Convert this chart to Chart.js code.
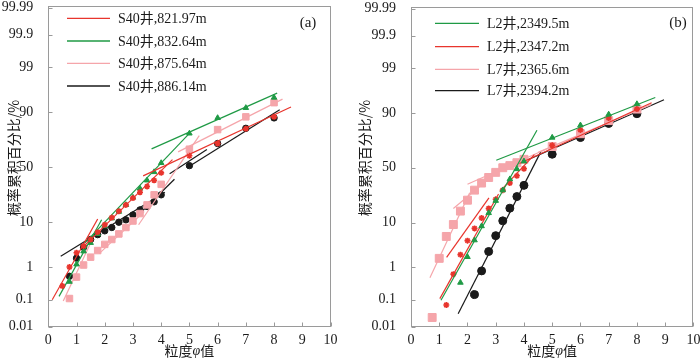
<!DOCTYPE html>
<html><head><meta charset="utf-8">
<script src="https://cdn.jsdelivr.net/npm/chart.js@4"></script>
<style>
html,body{margin:0;padding:0;background:#fff;}
#wrap{position:relative;width:700px;height:360px;overflow:hidden;}
.box{position:absolute;top:0;width:350px;height:360px;}
</style></head><body>
<div id="wrap">
<div class="box" style="left:0"><canvas id="ca" width="350" height="360"></canvas></div>
<div class="box" style="left:350px"><canvas id="cb" width="350" height="360"></canvas></div>
</div>
<script>
// ---------- axis ticks ----------
const yTickPercents = [0.01, 0.1, 1, 10, 50, 90, 99, 99.9, 99.99];
const yTickLabels = ['0.01', '0.1', '1', '10', '50', '90', '99', '99.9', '99.99'];
const xTickValues = [0, 1, 2, 3, 4, 5, 6, 7, 8, 9, 10];

// ---------- panel (a) ----------
const aLabels = ['S40井,821.97m', 'S40井,832.64m', 'S40井,875.64m', 'S40井,886.14m'];

const aRedPhi = [0.5, 0.75, 1, 1.25, 1.5, 1.75, 2, 2.25, 2.5, 2.75, 3, 3.25, 3.5, 3.75, 4, 5, 6, 7, 8];
const aRedPct = [0.28, 1.0, 2.3, 3.3, 4.6, 6.5, 9, 12, 15.3, 19, 23.6, 28, 32.7, 38, 44.8, 60.5, 71, 81.5, 88];
const aRedFit = [[0.14, 0.1, 1.75, 11.4], [1.2, 3.0, 4.4, 57], [3.36, 42, 8.6, 92]];

const aGreenPhi = [0.75, 1, 1.25, 1.5, 1.75, 2, 2.25, 2.5, 2.75, 3, 3.25, 3.5, 3.75, 4, 5, 6, 7, 8];
const aGreenPct = [0.38, 1.18, 2.5, 3.9, 6.0, 8.5, 11.7, 15, 19, 24, 31, 38, 45.6, 54, 78.5, 87.5, 91.7, 94.8];
const aGreenFit = [[0.38, 0.13, 1.89, 11], [1.3, 3.9, 5.0, 78.5], [3.66, 66.6, 8.11, 95.8]];

const aPinkPhi = [0.75, 1, 1.25, 1.5, 1.75, 2, 2.25, 2.5, 2.75, 3, 3.25, 3.5, 3.75, 4, 5, 6, 7, 8];
const aPinkPct = [0.11, 0.52, 1.13, 1.8, 2.6, 3.6, 4.6, 6.0, 8.0, 10.5, 14, 19, 26, 34.5, 66.3, 81, 88, 93.4];
const aPinkFit = [[0.53, 0.09, 1.55, 4.5], [1.8, 2.2, 3.4, 15], [3.2, 9, 5.35, 77], [4.6, 64, 8.3, 94.4]];

const aBlackPhi = [0.75, 1, 1.25, 1.5, 1.75, 2, 2.25, 2.5, 2.75, 3, 3.25, 3.5, 3.75, 4, 5, 6, 7, 8];
const aBlackPct = [0.55, 1.7, 3.1, 4.6, 5.8, 6.9, 8.0, 10, 11, 13.3, 16, 18, 21, 26, 51.5, 71, 81.8, 87.5];
const aBlackFit = [[0.44, 1.9, 4.13, 28], [3.17, 13, 4.47, 39], [4.3, 44, 5.62, 66], [5.0, 51, 8.2, 91]];

// ---------- panel (b) ----------
const bLabels = ['L2井,2349.5m', 'L2井,2347.2m', 'L7井,2365.6m', 'L7井,2394.2m'];

const bGreenPhi = [1.75, 2, 2.25, 2.5, 2.75, 3, 3.25, 3.5, 3.75, 4, 5, 6, 7, 8];
const bGreenPct = [0.36, 1.85, 4.5, 8.6, 14.5, 22, 30, 39.5, 48.8, 56, 76, 84, 89.4, 93.2];
const bGreenFit = [[1.06, 0.097, 4.46, 81], [3.02, 57, 8.65, 95]];

const bRedPhi = [1.25, 1.5, 1.75, 2, 2.25, 2.5, 2.75, 3, 3.25, 3.5, 3.75, 4, 5, 6, 7, 8];
const bRedPct = [0.066, 0.64, 2.1, 4.4, 7.8, 12, 17, 23, 30, 36, 42.5, 49, 70, 81.2, 87.8, 91.5];
const bRedFit = [[1.02, 0.11, 3.1, 27], [1.26, 1.8, 2.76, 24], [3.15, 29, 4.37, 62], [3.84, 54, 8.52, 93.6]];

const bPinkPhi = [0.75, 1, 1.25, 1.5, 1.75, 2, 2.25, 2.5, 2.75, 3, 3.25, 3.5, 3.75, 4, 5, 6, 7, 8];
const bPinkPct = [0.023, 1.7, 5.4, 9.2, 15.5, 22.4, 30, 36, 41, 45.7, 50, 52, 54.7, 57.8, 69, 78.7, 86.5, 91.5];
const bPinkFit = [[0.67, 0.5, 2.08, 28], [1.5, 17, 3.0, 45], [2.0, 35, 4.8, 67], [4.5, 64, 8.5, 93]];

const bBlackPhi = [2.25, 2.5, 2.75, 3, 3.25, 3.5, 3.75, 4, 5, 6, 7, 8];
const bBlackPct = [0.15, 0.79, 2.5, 5.6, 10.7, 17.2, 25, 34, 62.4, 76, 85, 89.7];
const bBlackFit = [[1.67, 0.032, 4.6, 64.7], [3.72, 52.5, 8.96, 94.4]];

// ---------- colours ----------
const RED = '#e8352d', GREEN = '#1f9a45', PINK = '#f5a5aa', BLACK = '#1a1a1a';

// inverse normal CDF (probability-paper scale)
function probit(p) {
  const a = [-3.969683028665376e+01, 2.209460984245205e+02, -2.759285104469687e+02, 1.383577518672690e+02, -3.066479806614716e+01, 2.506628277459239e+00];
  const b = [-5.447609879822406e+01, 1.615858368580409e+02, -1.556989798598866e+02, 6.680131188771972e+01, -1.328068155288572e+01];
  const c = [-7.784894002430293e-03, -3.223964580411365e-01, -2.400758277161838e+00, -2.549732539343734e+00, 4.374664141464968e+00, 2.938163982698783e+00];
  const d = [7.784695709041462e-03, 3.224671290700398e-01, 2.445134137142996e+00, 3.754408661907416e+00];
  const pl = 0.02425, ph = 1 - pl;
  let q, r;
  if (p < pl) { q = Math.sqrt(-2 * Math.log(p)); return (((((c[0]*q+c[1])*q+c[2])*q+c[3])*q+c[4])*q+c[5]) / ((((d[0]*q+d[1])*q+d[2])*q+d[3])*q+1); }
  if (p <= ph) { q = p - 0.5; r = q*q; return (((((a[0]*r+a[1])*r+a[2])*r+a[3])*r+a[4])*r+a[5])*q / (((((b[0]*r+b[1])*r+b[2])*r+b[3])*r+b[4])*r+1); }
  q = Math.sqrt(-2 * Math.log(1 - p));
  return -(((((c[0]*q+c[1])*q+c[2])*q+c[3])*q+c[4])*q+c[5]) / ((((d[0]*q+d[1])*q+d[2])*q+d[3])*q+1);
}
const zOf = pct => probit(pct / 100);
const yTickZ = yTickPercents.map(zOf);

function buildDatasets(series) {
  const ds = [];
  series.forEach(s => {
    ds.push({
      type: 'scatter', label: s.label,
      data: s.phi.map((x, k) => ({ x, y: zOf(s.pct[k]) })),
      backgroundColor: s.color, borderColor: s.color, borderWidth: s.bw || 1,
      pointStyle: s.style, pointRadius: s.radius, pointHoverRadius: s.radius, showLine: false
    });
    s.fit.forEach(f => ds.push({
      type: 'line', label: '',
      data: [{ x: f[0], y: zOf(f[1]) }, { x: f[2], y: zOf(f[3]) }],
      borderColor: s.color, borderWidth: 1.2, pointRadius: 0, fill: false, tension: 0
    }));
  });
  return ds;
}

const decor = {
  id: 'decor',
  afterDraw(chart, args, o) {
    const { ctx, chartArea: ca, scales: { x, y } } = chart;
    ctx.save();
    // frame
    ctx.strokeStyle = '#9a9a9a'; ctx.lineWidth = 1;
    const L = Math.round(ca.left) + 0.5, T = Math.round(ca.top) + 0.5, R = Math.round(ca.right) - 0.5, B = Math.round(ca.bottom) - 0.5;
    ctx.strokeRect(L, T, R - L, B - T);
    ctx.beginPath();
    y.ticks.forEach(t => { const py = Math.round(y.getPixelForValue(t.value)) + 0.5; ctx.moveTo(L, py); ctx.lineTo(L + 4, py); });
    x.ticks.forEach(t => { const px = Math.round(x.getPixelForValue(t.value)) + 0.5; ctx.moveTo(px, B); ctx.lineTo(px, B - 4); });
    ctx.stroke();
    // legend
    ctx.font = '14px "Liberation Serif", "Noto Sans CJK SC", serif';
    ctx.textBaseline = 'middle'; ctx.textAlign = 'left';
    o.items.forEach((it, i) => {
      const yy = o.legendRows[i];
      ctx.strokeStyle = it.color; ctx.lineWidth = 1.3;
      ctx.beginPath(); ctx.moveTo(o.legendX0, yy); ctx.lineTo(o.legendX1, yy); ctx.stroke();
      ctx.fillStyle = '#1a1a1a';
      ctx.fillText(it.label, o.legendTextX, yy + 1);
    });
    // panel label
    ctx.font = '15px "Liberation Serif", serif';
    ctx.textAlign = 'center';
    ctx.fillText(o.panel, o.panelX, o.panelY);
    // y title
    ctx.save();
    ctx.translate(o.yTitleX, o.yTitleY);
    ctx.rotate(-Math.PI / 2);
    ctx.font = '14px "Noto Sans CJK SC", sans-serif';
    ctx.textAlign = 'center'; ctx.textBaseline = 'middle';
    ctx.fillText('概率累积百分比/%', 0, 0);
    ctx.restore();
    // x title with italic phi
    const parts = [['粒度', '14px "Noto Sans CJK SC", sans-serif'], ['φ', 'italic 14px "Liberation Serif", serif'], ['值', '14px "Noto Sans CJK SC", sans-serif']];
    let w = 0;
    parts.forEach(p => { ctx.font = p[1]; w += ctx.measureText(p[0]).width; });
    let cx = (ca.left + ca.right) / 2 - w / 2;
    ctx.textAlign = 'left'; ctx.textBaseline = 'middle';
    parts.forEach(p => { ctx.font = p[1]; ctx.fillText(p[0], cx, o.xTitleY); cx += ctx.measureText(p[0]).width; });
    ctx.restore();
  }
};

function noPad(s) { s.paddingTop = 0; s.paddingBottom = 0; s.paddingLeft = 0; s.paddingRight = 0; }

function makeChart(id, series, opts) {
  return new Chart(document.getElementById(id), {
    type: 'scatter',
    data: { datasets: buildDatasets(series) },
    options: {
      responsive: false, animation: false, events: [],
      layout: { padding: { left: 0, right: opts.padRight, top: 1, bottom: 0 } },
      plugins: {
        legend: { display: false }, tooltip: { enabled: false },
        decor: {
          items: series.map(s => ({ label: s.label, color: s.color })),
          legendX0: opts.legendX0, legendX1: opts.legendX1, legendTextX: opts.legendTextX, legendRows: opts.legendRows,
          panel: opts.panel, panelX: opts.panelX, panelY: opts.panelY,
          yTitleX: opts.yTitleX, yTitleY: opts.yTitleY, xTitleY: 351
        }
      },
      scales: {
        x: {
          type: 'linear', min: 0, max: 10,
          afterBuildTicks: s => { s.ticks = xTickValues.map(v => ({ value: v })); },
          afterFit: s => { s.height = 33.3; noPad(s); },
          grid: { display: false }, border: { display: false },
          ticks: { padding: -3, color: '#1a1a1a', font: { family: '"Liberation Serif", serif', size: 14 }, autoSkip: false, maxRotation: 0,
                   callback: v => String(v) }
        },
        y: {
          type: 'linear', min: -3.719, max: 3.77,
          afterBuildTicks: s => { s.ticks = yTickZ.map(v => ({ value: v })); },
          afterFit: s => { s.width = opts.yWidth; noPad(s); },
          grid: { display: false }, border: { display: false },
          ticks: { padding: 7, color: '#1a1a1a', font: { family: '"Liberation Serif", serif', size: 14 }, autoSkip: false,
                   callback: (v, i) => yTickLabels[i] }
        }
      }
    },
    plugins: [decor]
  });
}

makeChart('ca', [
  { label: aLabels[0], color: RED, phi: aRedPhi, pct: aRedPct, fit: aRedFit, style: 'star', radius: 3, bw: 1.6 },
  { label: aLabels[1], color: GREEN, phi: aGreenPhi, pct: aGreenPct, fit: aGreenFit, style: 'triangle', radius: 3.2 },
  { label: aLabels[2], color: PINK, phi: aPinkPhi, pct: aPinkPct, fit: aPinkFit, style: 'rect', radius: 4.6 },
  { label: aLabels[3], color: BLACK, phi: aBlackPhi, pct: aBlackPct, fit: aBlackFit, style: 'circle', radius: 3.2 }
], { padRight: 19.5, yWidth: 48.3, legendX0: 67, legendX1: 110, legendTextX: 118, legendRows: [18.3, 41, 63.3, 86],
     panel: '(a)', panelX: 308, panelY: 23, yTitleX: 14, yTitleY: 158 });

makeChart('cb', [
  { label: bLabels[0], color: GREEN, phi: bGreenPhi, pct: bGreenPct, fit: bGreenFit, style: 'triangle', radius: 3.2 },
  { label: bLabels[1], color: RED, phi: bRedPhi, pct: bRedPct, fit: bRedFit, style: 'star', radius: 3, bw: 1.6 },
  { label: bLabels[2], color: PINK, phi: bPinkPhi, pct: bPinkPct, fit: bPinkFit, style: 'rect', radius: 5.6 },
  { label: bLabels[3], color: BLACK, phi: bBlackPhi, pct: bBlackPct, fit: bBlackFit, style: 'circle', radius: 4 }
], { padRight: 5, yWidth: 61, legendX0: 85, legendX1: 129, legendTextX: 137, legendRows: [23.3, 46.7, 69.3, 90.7],
     panel: '(b)', panelX: 328, panelY: 23, yTitleX: 15, yTitleY: 158 });
</script>
</body></html>
